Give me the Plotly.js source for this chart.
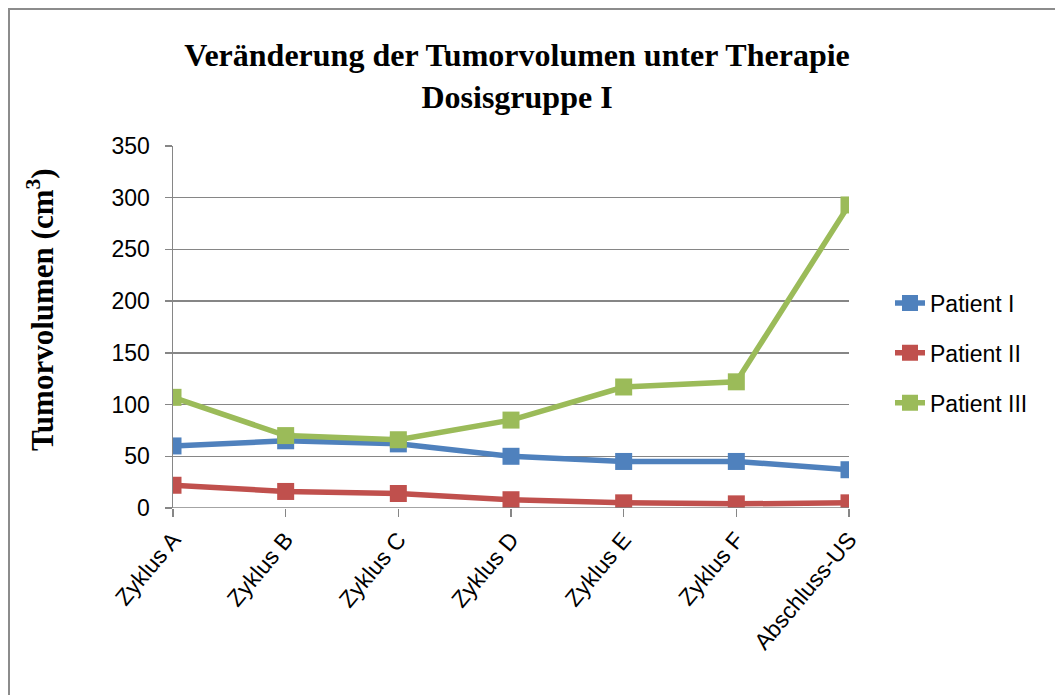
<!DOCTYPE html>
<html><head><meta charset="utf-8">
<script src="https://cdn.plot.ly/plotly-3.0.1.min.js"></script>
<style>
html,body{margin:0;padding:0;overflow:hidden;background:#fff;}
#chart{position:absolute;left:0;top:0;width:1055px;height:695px;}
#frame{position:absolute;left:8px;top:8px;width:1100px;height:750px;border:2px solid #8c8c8c;pointer-events:none;}
</style></head>
<body>
<div id="chart"></div>
<div id="frame"></div>
<script>
const categories = ["Zyklus A","Zyklus B","Zyklus C","Zyklus D","Zyklus E","Zyklus F","Abschluss-US"];
const patient1 = [60, 65, 62, 50, 45, 45, 37];
const patient2 = [22, 16, 14, 8, 5, 4, 5];
const patient3 = [107, 70, 66, 85, 117, 122, 293];
const seriesNames = ["Patient I","Patient II","Patient III"];
const colors = ["#4F81BD","#C0504D","#9BBB59"];
const yTicks = [0,50,100,150,200,250,300,350];

const seriesData = [patient1, patient2, patient3];
const traces = seriesData.map((vals,i)=>({
  x: categories, y: vals, name: seriesNames[i], type:'scatter', mode:'lines+markers',
  legendgroup: 'g'+i,
  line:{color:colors[i], width:5.5},
  marker:{symbol:'square', size:17, color:colors[i]}
}));

const L=173, R=206, T=146, B=187;
const pw = 1055-L-R, ph = 695-T-B;
const tickFont = {family:'Liberation Sans, Arial, sans-serif', size:23, color:'#000'};
const serif = 'Liberation Serif, Times New Roman, serif';
const layout = {
  width:1055, height:695,
  margin:{l:L, r:R, t:T, b:B, pad:0},
  paper_bgcolor:'#fff', plot_bgcolor:'#fff',
  showlegend:true,
  title:{text:'<b>Veränderung der Tumorvolumen unter Therapie<br>Dosisgruppe I</b>',
    font:{family:serif, size:32, color:'#000'},
    x:(517-L)/pw, xref:'paper', xanchor:'center', y:1-66/695, yanchor:'top', yref:'container'},
  xaxis:{type:'category', range:[0,6], showgrid:false, zeroline:false,
    showline:false, ticks:'outside', ticklen:8, tickcolor:'#868686', tickwidth:1.5,
    tickangle:-50, tickfont:tickFont, fixedrange:true},
  yaxis:{range:[0,350], tickvals:yTicks, ticktext:yTicks.map(String),
    showgrid:true, gridcolor:'#868686', gridwidth:1.5, zeroline:false,
    showline:true, linecolor:'#868686', linewidth:1.5,
    ticks:'outside', ticklen:7, tickcolor:'#868686', tickwidth:1.5,
    ticklabelstandoff:10,
    tickfont:tickFont,
    fixedrange:true},
  annotations:[{text:'<b>Tumorvolumen (cm<sup>3</sup>)</b>', textangle:-90, showarrow:false,
    xref:'paper', yref:'paper', x:(40-L)/pw, y:(508-310)/ph, xanchor:'center', yanchor:'middle',
    font:{family:serif, size:31, color:'#000'}}],
  legend:{x:(890-L)/pw, xanchor:'left', y:(508-353)/ph, yanchor:'middle', traceorder:'grouped', tracegroupgap:17,
    font:tickFont, bgcolor:'rgba(0,0,0,0)'},
  shapes:[{type:'line', xref:'paper', yref:'y', x0:0, x1:1, y0:0, y1:0, line:{color:'#868686', width:1.5}}]
};
Plotly.newPlot('chart', traces, layout, {displayModeBar:false, staticPlot:true});
</script>
</body></html>
